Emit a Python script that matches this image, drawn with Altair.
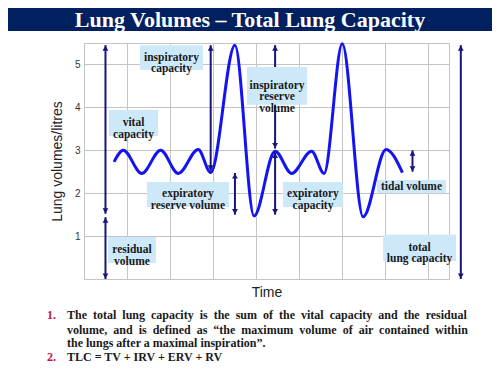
import altair as alt
import pandas as pd

# ---- data ----
curve_t = [1.40, 1.83, 2.69, 3.57, 4.39, 5.32, 5.90, 7.03, 7.92, 8.90, 9.67, 10.60, 11.18, 12.03, 13.00, 14.07, 14.83]
curve_v = [2.73, 3.00, 2.46, 3.00, 2.46, 3.02, 2.48, 5.45, 1.47, 2.98, 2.46, 2.98, 2.46, 5.48, 1.45, 3.02, 2.48]

arrow_names = ["vital", "residual", "IC", "ERV", "IRV", "EC", "TV", "TLC"]
arrow_x = [1.0, 1.0, 5.9, 7.03, 8.9, 8.9, 15.3, 17.55]
arrow_lo = [1.52, 0.0, 2.52, 1.50, 3.04, 1.50, 2.50, 0.0]
arrow_hi = [5.45, 1.44, 5.45, 2.47, 5.45, 2.95, 3.00, 5.45]

label_text = ["inspiratory\ncapacity", "vital\ncapacity", "residual\nvolume",
              "expiratory\nreserve volume", "inspiratory\nreserve\nvolume",
              "expiratory\ncapacity", "tidal volume", "total\nlung capacity"]
label_x1 = [2.61, 1.16, 1.12, 2.93, 7.59, 9.27, 13.65, 13.93]
label_x2 = [5.54, 3.45, 3.35, 6.75, 10.39, 12.06, 16.86, 17.33]
label_y1 = [4.87, 3.33, 0.37, 1.68, 4.06, 1.68, 2.00, 0.42]
label_y2 = [5.45, 3.94, 0.98, 2.26, 4.94, 2.26, 2.31, 1.03]

y_grid = [0, 0.5, 1, 1.5, 2, 2.5, 3, 3.5, 4, 4.5, 5, 5.5]
x_grid = list(range(0, 18))

title_text = "Lung Volumes \u2013 Total Lung Capacity"
note_nums = ["1.", "", "", "2."]
note_lines = [
    "The total lung capacity is the sum of the vital capacity and the residual",
    "volume, and is defined as \u201cthe maximum volume of air contained within",
    "the lungs after a maximal inspiration\u201d.",
    "TLC = TV + IRV + ERV + RV",
]
note_justify = [True, True, False, False]

# ---- tables ----
curve = pd.DataFrame({"t": curve_t, "v": curve_v})
arrows = pd.DataFrame({"name": arrow_names, "x": arrow_x, "lo": arrow_lo, "hi": arrow_hi})
labels = pd.DataFrame({"text": label_text, "x1": label_x1, "x2": label_x2,
                       "y1": label_y1, "y2": label_y2})
labels["xc"] = (labels.x1 + labels.x2) / 2
labels["yc"] = (labels.y1 + labels.y2) / 2

NAVY = "#16167a"
xs = alt.Scale(domain=[0, 17], nice=False, zero=False)
ys = alt.Scale(domain=[0, 5.5], nice=False, zero=False)

X = alt.X("t:Q", scale=xs,
          axis=alt.Axis(values=x_grid, labels=False, ticks=False, domain=False,
                        grid=True, gridColor="#c4c4c4", title="Time",
                        titleFontSize=14, titleFontWeight="normal",
                        titleFont="Liberation Sans", titleColor="#222222",
                        titlePadding=6))
Y = alt.Y("v:Q", scale=ys,
          axis=alt.Axis(values=y_grid, ticks=False, domain=False, grid=True,
                        gridColor="#c4c4c4",
                        labelExpr="datum.value % 1 == 0 && datum.value > 0 ? datum.label : ''",
                        labelFontSize=10, labelFont="Liberation Sans", labelColor="#333333",
                        labelPadding=4, title="Lung volumes/litres", titleFontSize=14,
                        titleFontWeight="normal", titleFont="Liberation Sans",
                        titleColor="#222222", titlePadding=10))

line = alt.Chart(curve).mark_line(color="#1414f0", strokeWidth=3, interpolate="monotone",
                                  clip=False).encode(x=X, y=Y)

rules = alt.Chart(arrows).mark_rule(color=NAVY, strokeWidth=2, clip=False).encode(
    x=alt.X("x:Q", scale=xs), y=alt.Y("lo:Q", scale=ys), y2="hi:Q")
heads_up = alt.Chart(arrows).mark_point(shape="triangle-up", filled=True, color=NAVY,
                                        opacity=1, size=34, yOffset=3, clip=False).encode(
    x=alt.X("x:Q", scale=xs), y=alt.Y("hi:Q", scale=ys))
heads_dn = alt.Chart(arrows).mark_point(shape="triangle-down", filled=True, color=NAVY,
                                        opacity=1, size=34, yOffset=-3, clip=False).encode(
    x=alt.X("x:Q", scale=xs), y=alt.Y("lo:Q", scale=ys))

boxes = alt.Chart(labels).mark_rect(fill="#cde9f9", opacity=1, fillOpacity=1,
                                    strokeWidth=0, clip=False).encode(
    x=alt.X("x1:Q", scale=xs), x2="x2:Q", y=alt.Y("y1:Q", scale=ys), y2="y2:Q")
box_text = alt.Chart(labels).mark_text(font="Liberation Serif", fontWeight="bold",
                                       fontSize=11.5, color="#1a1a1a", lineBreak="\n",
                                       lineHeight=11.5, baseline="middle", align="center",
                                       clip=False).encode(
    x=alt.X("xc:Q", scale=xs), y=alt.Y("yc:Q", scale=ys), text="text:N")

# banner (decoration, placed in pixels relative to the plot area)
banner = alt.Chart(pd.DataFrame({"a": [0]})).mark_rect(color="#002060").encode(
    x=alt.value(-76), x2=alt.value(408), y=alt.value(-35), y2=alt.value(-12))
title = alt.Chart(pd.DataFrame({"t": [title_text]})).mark_text(
    font="Liberation Serif", fontWeight="bold", fontSize=22, color="white",
    baseline="alphabetic", align="center").encode(
    x=alt.value(166), y=alt.value(-16), text="t:N")

note_layers = []
note_y = [272, 287, 300, 314]
for i, (num, txt) in enumerate(zip(note_nums, note_lines)):
    shown = txt.replace(" ", " \u00a0") if note_justify[i] else txt
    df = pd.DataFrame({"n": [num], "t": [shown]})
    if num:
        note_layers.append(alt.Chart(df).mark_text(
            font="Liberation Serif", fontWeight="bold", fontSize=12, color="#c0143c",
            align="left", baseline="middle").encode(
            x=alt.value(-37), y=alt.value(note_y[i]), text="n:N"))
    note_layers.append(alt.Chart(df).mark_text(
        font="Liberation Serif", fontWeight="bold", fontSize=12, color="#1a1a1a",
        align="left", baseline="middle").encode(
        x=alt.value(-17), y=alt.value(note_y[i]), text="t:N"))

chart = alt.layer(line, rules, heads_up, heads_dn, boxes, box_text, banner, title,
                  *note_layers).properties(
    width=365, height=236,
    autosize=alt.AutoSizeParams(type="none"),
    padding={"left": 76, "top": 35, "right": 43, "bottom": 88},
    background="white",
).configure_view(stroke="#c4c4c4", strokeWidth=1)

chart.save("out.html", embed_options={"renderer": "svg", "actions": False})
